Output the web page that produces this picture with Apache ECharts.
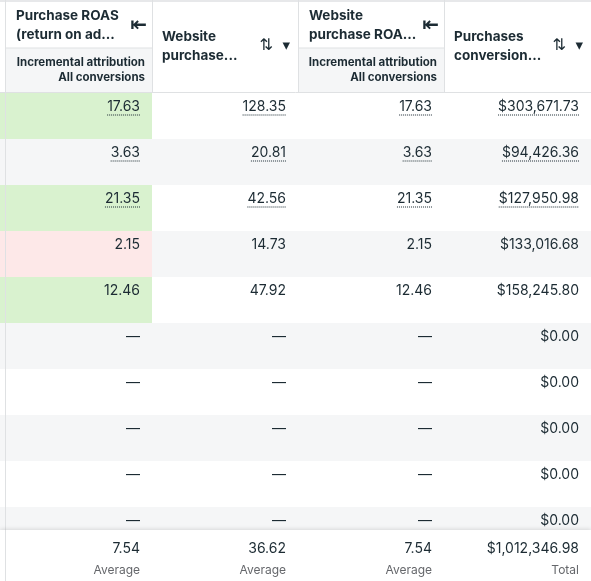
<!DOCTYPE html><html><head><meta charset="utf-8"><script src="https://cdn.jsdelivr.net/npm/echarts@6/dist/echarts.min.js"></script>
<style>body{margin:0}#c{width:591px;height:581px}</style></head><body><div id="c"></div><script>
const colHeaders=[["Purchase ROAS","(return on ad..."],["Website","purchase..."],["Website","purchase ROA..."],["Purchases","conversion..."]];
const subHeader=["Incremental attribution","All conversions"];
const roas=["17.63","3.63","21.35","2.15","12.46","—","—","—","—","—"];
const websitePurchase=["128.35","20.81","42.56","14.73","47.92","—","—","—","—","—"];
const websiteRoas=["17.63","3.63","21.35","2.15","12.46","—","—","—","—","—"];
const conversionValue=["$303,671.73","$94,426.36","$127,950.98","$133,016.68","$158,245.80","$0.00","$0.00","$0.00","$0.00","$0.00"];
const roasHighlight=["good","none","good","bad","good","none","none","none","none","none"];
const underlined=[[1,1,1,1],[1,1,1,1],[1,1,1,1],[0,0,0,0],[0,0,0,0],[0,0,0,0],[0,0,0,0],[0,0,0,0],[0,0,0,0],[0,0,0,0]];
const footerValues=["7.54","36.62","7.54","$1,012,346.98"];
const footerLabels=["Average","Average","Average","Total"];
const edges=[5,152,298,444,591];
const cols=[roas,websitePurchase,websiteRoas,conversionValue];
const FONT='"Helvetica Neue",Inter,Roboto,sans-serif';
const TXT='#1c2b33';
const ctx=document.createElement('canvas').getContext('2d');ctx.font='13px '+FONT;
const data=[];
for(let r=0;r<roas.length;r++)for(let c=0;c<4;c++)data.push([c,r,cols[c][r]]);
const chart=echarts.init(document.getElementById('c'),null,{renderer:'canvas'});
const g=[];
g.push({type:'rect',shape:{x:0,y:0,width:591,height:93},style:{fill:'#fff'}});
[0,2].forEach(c=>g.push({type:'rect',shape:{x:edges[c]+1,y:48,width:edges[c+1]-edges[c]-1,height:45},style:{fill:'#f5f6f7'}}));
g.push({type:'line',shape:{x1:0,y1:1,x2:591,y2:1},style:{stroke:'#dfe1e3',lineWidth:1.5}});
g.push({type:'line',shape:{x1:0,y1:92.5,x2:591,y2:92.5},style:{stroke:'#dfe1e3'}});
[0,2].forEach(c=>g.push({type:'line',shape:{x1:edges[c],y1:48,x2:edges[c+1],y2:48},style:{stroke:'#dfe1e3'}}));
edges.forEach(x=>g.push({type:'line',shape:{x1:x+0.5,y1:0,x2:x+0.5,y2:93},style:{stroke:'#dfe1e3'}}));
colHeaders.forEach((h,c)=>{
 const x=edges[c]+(c%2==0?11:10), y0=c%2==0?16:37;
 h.forEach((t,i)=>g.push({type:'text',style:{x,y:y0+i*19,text:t,font:'bold 13.5px '+FONT,fill:TXT,verticalAlign:'middle'}}));
 if(c%2==0){g.push({type:'text',style:{x:edges[c+1]-5,y:26,text:'⇤',font:'bold 20px DejaVu Sans',fill:TXT,align:'right',verticalAlign:'middle'}});
  subHeader.forEach((t,i)=>g.push({type:'text',style:{x:edges[c+1]-7,y:63+i*15,text:t,font:'bold 11.5px '+FONT,fill:TXT,align:'right',verticalAlign:'middle'}}));}
 else{g.push({type:'text',style:{x:edges[c+1]-25,y:46,text:'⇅',font:'16px DejaVu Sans',fill:TXT,align:'right',verticalAlign:'middle'}});
  g.push({type:'text',style:{x:edges[c+1]-8,y:46,text:'▾',font:'15px DejaVu Sans',fill:TXT,align:'right',verticalAlign:'middle'}});}
});
const Z=100;
g.push({type:'rect',z:Z,shape:{x:0,y:530,width:591,height:51},style:{fill:'#fff',shadowColor:'rgba(0,0,0,0.12)',shadowBlur:4,shadowOffsetY:-1}});
g.push({type:'line',z:Z+1,shape:{x1:5.5,y1:530,x2:5.5,y2:581},style:{stroke:'#dfe1e3'}});
footerValues.forEach((t,c)=>{
 g.push({type:'text',z:Z+1,style:{x:edges[c+1]-12,y:549,text:t,font:'14px '+FONT,fill:TXT,align:'right',verticalAlign:'middle'}});
 g.push({type:'text',z:Z+1,style:{x:edges[c+1]-12,y:570,text:footerLabels[c],font:'12px '+FONT,fill:'#65676b',align:'right',verticalAlign:'middle'}});
});
chart.setOption({animation:false,
 grid:{left:0,right:0,top:93,height:460,containLabel:false},
 xAxis:{type:'value',min:0,max:591,show:false},
 yAxis:{type:'category',data:roas.map((_,i)=>i),inverse:true,show:false},
 series:[{type:'custom',clip:false,data,
  renderItem:(p,api)=>{
   const c=api.value(0),r=api.value(1),t=cols[c][r];
   const x0=api.coord([edges[c],r])[0],x1=api.coord([edges[c+1],r])[0];
   const sz=api.size([0,1])[1],yc=api.coord([0,r])[1],y0=yc-sz/2;
   let fill=r%2?'#f5f6f7':'#fff';
   if(c==0&&roasHighlight[r]=='good')fill='#d9f2cf';
   if(c==0&&roasHighlight[r]=='bad')fill='#fde8e8';
   const ch=[{type:'rect',shape:{x:c==0?0:x0,y:y0,width:x1-(c==0?0:x0),height:sz},style:{fill}}];
   if(c==0)ch.push({type:'line',shape:{x1:5.5,y1:y0,x2:5.5,y2:y0+sz},style:{stroke:'#dfe1e3'}});
   const ty=y0+14,tx=x1-12;
   ch.push({type:'text',style:{x:tx,y:ty,text:t,font:'14px '+FONT,fill:TXT,align:'right',verticalAlign:'middle'}});
   ctx.font='14px '+FONT;
   if(underlined[r][c]){const w=ctx.measureText(t).width;ch.push({type:'line',shape:{x1:tx-w,y1:ty+8,x2:tx,y2:ty+8},style:{stroke:TXT,lineWidth:1,lineDash:[1,1]}});}
   return {type:'group',children:ch};
  }}],
 graphic:{elements:g}
});
</script></body></html>
